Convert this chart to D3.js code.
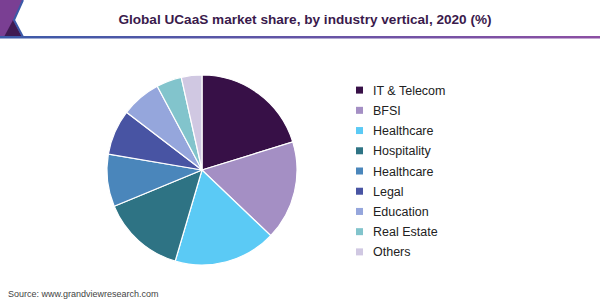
<!DOCTYPE html>
<html>
<head>
<meta charset="utf-8">
<script src="https://cdn.jsdelivr.net/npm/d3@7"></script>
<style>
  body { margin: 0; background: #fff; }
  svg { display: block; font-family: "Liberation Sans", Arial, sans-serif; }
</style>
</head>
<body>
<svg id="chart" width="600" height="300"></svg>
<script>
// data
var categories = ["IT & Telecom", "BFSI", "Healthcare", "Hospitality", "Healthcare", "Legal", "Education", "Real Estate", "Others"];
var shares = [20.2, 16.9, 17.4, 14.2, 8.9, 7.7, 6.8, 4.3, 3.5];
var colors = ["#371047", "#a48fc4", "#5bcaf5", "#2e7384", "#4a86bb", "#4854a3", "#95a6dc", "#82c4cc", "#d0c8e2"];

var svg = d3.select("#chart");

// header decoration
var grad = svg.append("defs").append("linearGradient").attr("id", "hline");
grad.append("stop").attr("offset", "0%").attr("stop-color", "#3b5aa8");
grad.append("stop").attr("offset", "100%").attr("stop-color", "#8c4fa3");

svg.append("path")
  .attr("d", "M0,0 L23,0 L14,20 L23,37 L0,37 Z")
  .attr("fill", "#7a3f93");
svg.append("path")
  .attr("d", "M13,20 L22,37 L4,37 Z")
  .attr("fill", "#3f1a52");
svg.append("path")
  .attr("d", "M23,0 L14,20 L23,37")
  .attr("fill", "none")
  .attr("stroke", "#3b5aa8")
  .attr("stroke-width", 2);
svg.append("rect")
  .attr("x", 0).attr("y", 36).attr("width", 600).attr("height", 2.5)
  .attr("fill", "url(#hline)");

svg.append("text")
  .attr("x", 305).attr("y", 23.5)
  .attr("text-anchor", "middle")
  .attr("font-size", 13.6).attr("font-weight", "bold")
  .attr("fill", "#3a1a4c")
  .text("Global UCaaS market share, by industry vertical, 2020 (%)");

// pie
var pie = d3.pie().sort(null).value(function(d) { return d; });
var arc = d3.arc().innerRadius(0).outerRadius(95);

var g = svg.append("g").attr("transform", "translate(202,170)");
g.selectAll("path")
  .data(pie(shares)).enter().append("path")
  .attr("d", arc)
  .attr("fill", function(d, i) { return colors[i]; })
  .attr("stroke", "#fff")
  .attr("stroke-width", 1.2);

// legend
var y = d3.scaleBand().domain(d3.range(categories.length)).range([80, 262]);
var leg = svg.append("g").selectAll("g")
  .data(categories).enter().append("g")
  .attr("transform", function(d, i) { return "translate(0," + (y(i) + y.bandwidth() / 2) + ")"; });
leg.append("rect")
  .attr("x", 356).attr("y", -3.5).attr("width", 7).attr("height", 7)
  .attr("fill", function(d, i) { return colors[i]; });
leg.append("text")
  .attr("x", 373).attr("y", 4.5)
  .attr("font-size", 12.5)
  .attr("fill", "#222")
  .text(function(d) { return d; });

svg.append("text")
  .attr("x", 8).attr("y", 297)
  .attr("font-size", 9)
  .attr("fill", "#444")
  .text("Source: www.grandviewresearch.com");
</script>
</body>
</html>
